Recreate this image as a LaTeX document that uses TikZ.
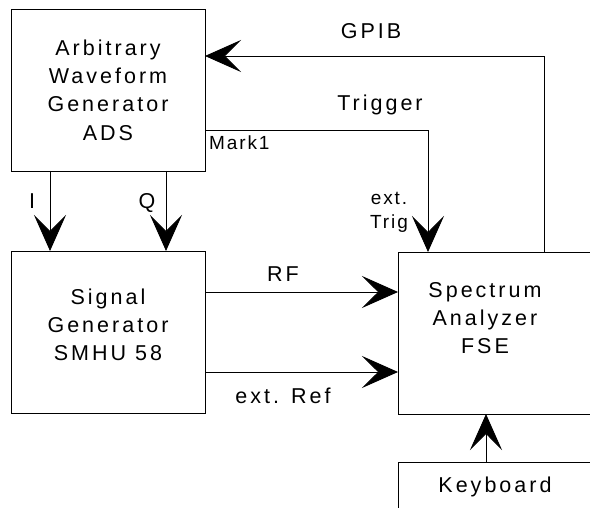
\documentclass[tikz,border=0pt]{standalone}
\usepackage{fontspec}
\setmainfont{Liberation Sans}[LetterSpace=14]
\newfontfamily\smallfont{Liberation Sans}[LetterSpace=10]
\usetikzlibrary{arrows.meta}
\tikzset{
  box/.style={draw, line width=0.9pt, inner sep=0pt, outer sep=0pt,
    minimum width=#1},
  arr/.style={-{Stealth[length=36pt,width=32pt,inset=16pt]}, line width=0.8pt},
  big/.style={font=\fontsize{21.5}{28.3}\selectfont, inner sep=0pt, align=center},
  small/.style={font=\smallfont\fontsize{19}{24}\selectfont, inner sep=0pt, align=center}
}
\begin{document}
\begin{tikzpicture}[x=1pt,y=-1pt]
\clip (0,0) rectangle (590,508);
\fill[white] (0,0) rectangle (590,508);
% boxes
\node[box=194pt, minimum height=162pt, big] (awg) at (108,90)
  {Arbitrary\\Waveform\\Generator\\ADS};
\node[box=194pt, minimum height=162pt] (sg) at (108,332) {};
\node[box=222pt, minimum height=162pt] (sa) at (509,333) {};
\node[box=222pt, minimum height=98pt] (kb) at (509,511) {};
% box texts
\node[big] (sgt) at (108,325) {Signal\\Generator\\SMHU 58};
\node[big] (sat) at (485,318) {Spectrum\\Analyzer\\FSE};
\node[big, anchor=base] (kbt) at (495,492) {Keyboard};
% connectors
\draw[arr] ([xshift=146pt]sa.north west) |- ([yshift=34pt]awg.east);
\draw[arr] ([yshift=-40pt]awg.east) -| ([xshift=30pt]sa.north west);
\draw[arr] ([xshift=-58pt]awg.south) -- ([xshift=-58pt]sg.north);
\draw[arr] ([xshift=58pt]awg.south) -- ([xshift=58pt]sg.north);
\draw[arr] ([yshift=40pt]sg.east) -- ([yshift=40pt]sg.east -| sa.west);
\draw[arr] ([yshift=-40pt]sg.east) -- ([yshift=-40pt]sg.east -| sa.west);
\draw[arr] ([xshift=88pt]kb.north west) -- ([xshift=88pt]sa.south west);
% connector labels
\node[big, anchor=base] (lgpib) at (371,39) {GPIB};
\node[big, anchor=base] (ltrig) at (380,111) {Trigger};
\node[small, anchor=base west] (lmark) at (209,150) {Mark1};
\node[small, anchor=center] (lext) at (389,212) {ext.\\Trig};
\node[big, anchor=base] (li) at (32,209) {I};
\node[big, anchor=base] (lq) at (147,209) {Q};
\node[big, anchor=base] (lrf) at (283,282) {RF};
\node[big, anchor=base] (lref) at (283,403) {ext. Ref};
\end{tikzpicture}
\end{document}
